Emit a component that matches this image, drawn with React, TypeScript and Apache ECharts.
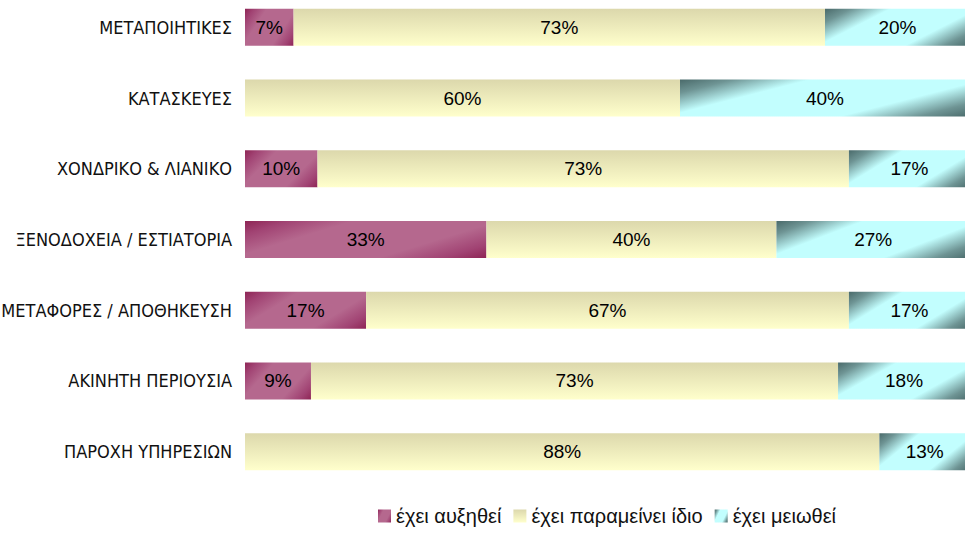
import React, { useEffect, useRef } from "react";
import * as echarts from "echarts";

const categories = [
  "ΜΕΤΑΠΟΙΗΤΙΚΕΣ",
  "ΚΑΤΑΣΚΕΥΕΣ",
  "ΧΟΝΔΡΙΚΟ & ΛΙΑΝΙΚΟ",
  "ΞΕΝΟΔΟΧΕΙΑ / ΕΣΤΙΑΤΟΡΙΑ",
  "ΜΕΤΑΦΟΡΕΣ / ΑΠΟΘΗΚΕΥΣΗ",
  "ΑΚΙΝΗΤΗ ΠΕΡΙΟΥΣΙΑ",
  "ΠΑΡΟΧΗ ΥΠΗΡΕΣΙΩΝ",
];
const seriesNames = ["έχει αυξηθεί", "έχει παραμείνει ίδιο", "έχει μειωθεί"];
const increased = [6.7, 0, 10, 33.3, 16.7, 9.1, 0];
const unchanged = [73.3, 60, 73.3, 40, 66.6, 72.7, 87.5];
const decreased = [20, 40, 16.7, 26.7, 16.7, 18.2, 12.5];

const GRID_W = 725;
const BAR_H = 37;

// Diagonal gradient (bounding-box relative), dark corners top-left and bottom-right
function diag(dark: string, mid: string, light: string) {
  return new echarts.graphic.LinearGradient(0, 0, 1.2, 0.6, [
    { offset: 0, color: dark },
    { offset: 0.12, color: mid },
    { offset: 0.3, color: light },
    { offset: 0.7, color: light },
    { offset: 0.88, color: mid },
    { offset: 1, color: dark },
  ]);
}

const magenta = diag("#8e2555", "#a14373", "#b5688e");
const cyan = diag("#4a6a6a", "#6e9494", "#c2fefe");
const cream = new echarts.graphic.LinearGradient(0, 0, 0, 1, [
  { offset: 0, color: "#dcd8ac" },
  { offset: 1, color: "#ffffcc" },
]);

export default function App() {
  const ref = useRef<HTMLDivElement>(null);
  useEffect(() => {
    if (!ref.current) return;
    const chart = echarts.init(ref.current, null, { renderer: "svg" });
    const labelCfg = {
      show: true,
      position: "inside",
      color: "#000",
      fontSize: 19,
      fontFamily: "Liberation Sans, Arial, sans-serif",
      formatter: (p: any) => (p.value > 0 ? Math.round(p.value) + "%" : ""),
    };
    const mk = (name: string, data: number[], color: any) => ({
      name,
      type: "bar",
      stack: "total",
      barWidth: BAR_H,
      data,
      itemStyle: { color },
      label: labelCfg,
      emphasis: { disabled: true },
    });
    chart.setOption({
      animation: false,
      backgroundColor: "#ffffff",
      grid: {
        left: 245,
        width: GRID_W,
        top: -8,
        height: 495,
        containLabel: false,
        outerBoundsMode: "none",
      },
      xAxis: { type: "value", min: 0, max: 100, show: false },
      yAxis: {
        type: "category",
        data: categories,
        inverse: true,
        axisLine: { show: false },
        axisTick: { show: false },
        splitLine: { show: false },
        axisLabel: {
          margin: 13,
          color: "#111",
          fontSize: 18,
          fontFamily: "Liberation Sans Narrow, DejaVu Sans Condensed, Arial, sans-serif",
        },
      },
      legend: {
        data: seriesNames,
        left: 378,
        top: 506,
        itemWidth: 13,
        itemHeight: 13,
        itemGap: 12,
        icon: "rect",
        textStyle: {
          fontSize: 20,
          color: "#111",
          fontFamily: "Liberation Sans, Arial, sans-serif",
        },
        padding: 0,
      },
      series: [
        mk(seriesNames[0], increased, magenta),
        mk(seriesNames[1], unchanged, cream),
        mk(seriesNames[2], decreased, cyan),
      ],
    });
    return () => chart.dispose();
  }, []);
  return (
    <div
      ref={ref}
      style={{ position: "fixed", left: 0, top: 0, width: 965, height: 541 }}
    />
  );
}
